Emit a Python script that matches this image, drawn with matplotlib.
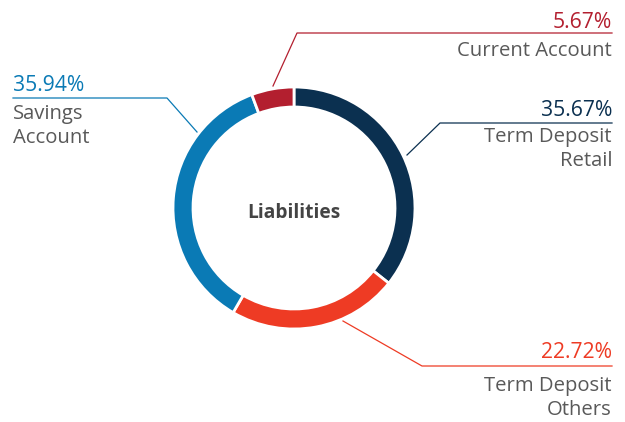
import matplotlib.pyplot as plt

# donut values, clockwise from 12 o'clock
labels = ["Term Deposit\nRetail", "Term Deposit\nOthers", "Savings\nAccount", "Current Account"]
shares = [35.67, 22.72, 35.94, 5.67]
colors = ["#0b3050", "#ee3b24", "#0a7ab5", "#b31f2f"]
pct_text = ["35.67%", "22.72%", "35.94%", "5.67%"]

plt.rcParams['font.family'] = ['Open Sans', 'DejaVu Sans']

fig = plt.figure(figsize=(6.25, 4.22), dpi=100)
ax = fig.add_axes([0, 0, 1, 1])

ax.pie(shares, colors=colors, startangle=90, counterclock=False,
       center=(294, 214), radius=121,
       wedgeprops=dict(width=20, edgecolor="white", linewidth=2))

ax.set_xlim(0, 625)
ax.set_ylim(0, 422)
ax.set_aspect("equal")
ax.axis("off")

ax.text(294, 209, "Liabilities", ha="center", va="center",
        fontsize=13.8, fontweight="bold", color="#444444")

grey = "#595959"
lw = 0.9
lab_fs = 14.6
pct_fs = 15.2

# leader lines + labels (layout positions, pixel space with y up)
# Current Account
ax.plot([273, 297, 612], [336, 389, 389], color=colors[3], lw=lw)
ax.text(612, 394, pct_text[3], ha="right", va="baseline", fontsize=pct_fs, color=colors[3])
ax.text(612, 366, labels[3], ha="right", va="baseline", fontsize=lab_fs, color=grey)

# Term Deposit Retail
ax.plot([407, 440, 612], [267, 299, 299], color=colors[0], lw=lw)
ax.text(612, 306, pct_text[0], ha="right", va="baseline", fontsize=pct_fs, color=colors[0])
ax.text(612, 256, labels[0], ha="right", va="baseline", fontsize=lab_fs, color=grey,
        linespacing=1.25, multialignment="right")

# Term Deposit Others
ax.plot([343, 422, 612], [101, 56, 56], color=colors[1], lw=lw)
ax.text(612, 64, pct_text[1], ha="right", va="baseline", fontsize=pct_fs, color=colors[1])
ax.text(612, 7, labels[1], ha="right", va="baseline", fontsize=lab_fs, color=grey,
        linespacing=1.25, multialignment="right")

# Savings Account
ax.plot([197, 167, 13], [290, 324, 324], color=colors[2], lw=lw)
ax.text(13, 331, pct_text[2], ha="left", va="baseline", fontsize=pct_fs, color=colors[2])
ax.text(13, 279, labels[2], ha="left", va="baseline", fontsize=lab_fs, color=grey,
        linespacing=1.25)

fig.savefig("out.png", dpi=100)
